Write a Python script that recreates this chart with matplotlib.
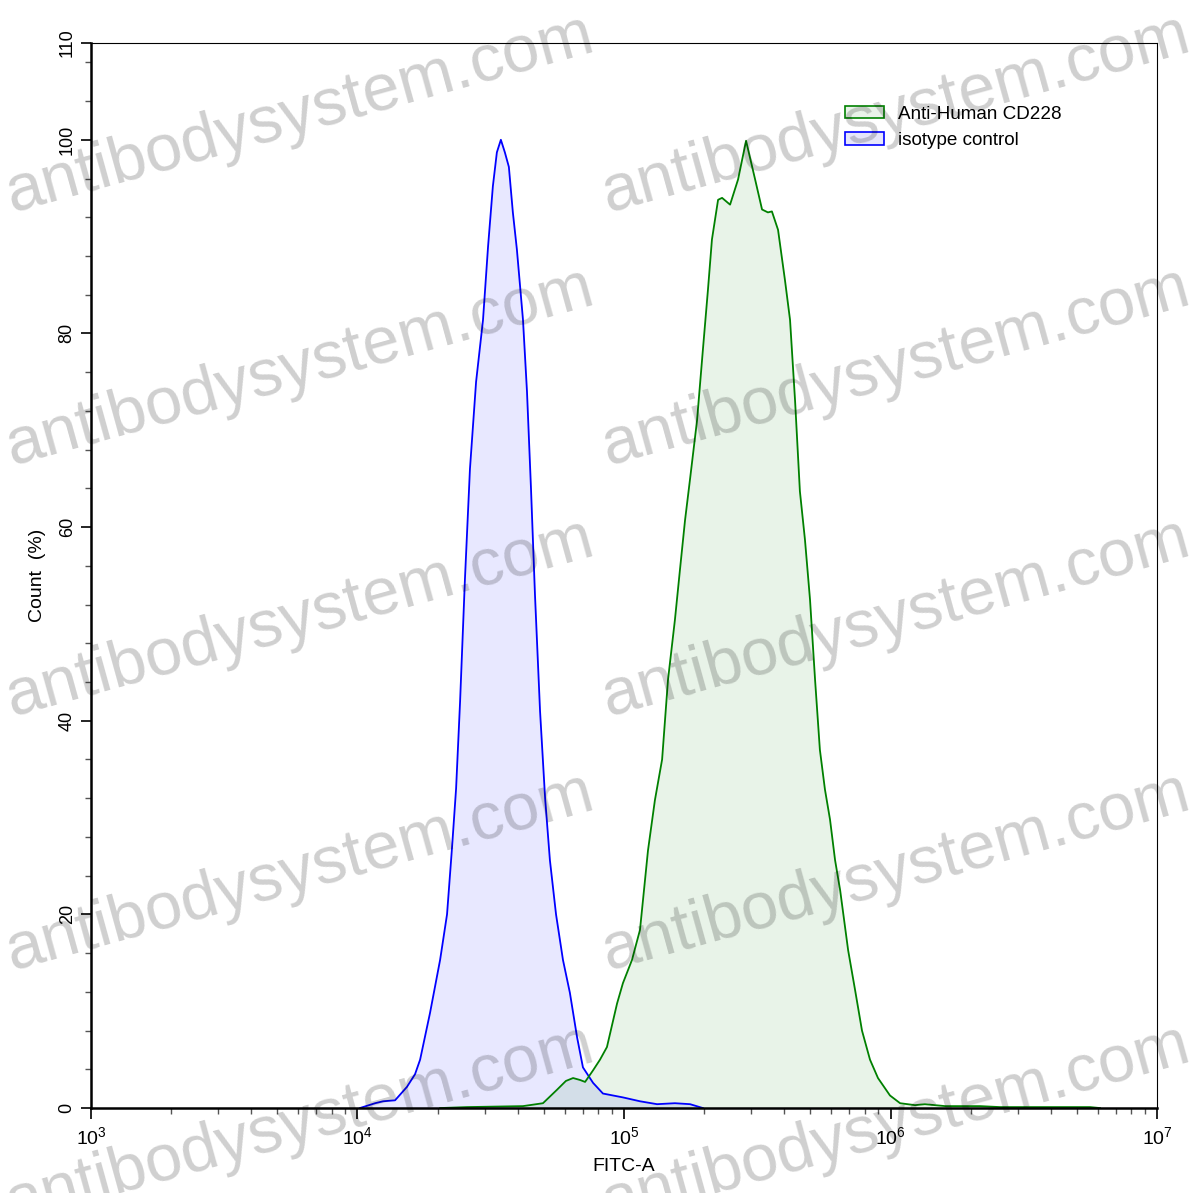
import numpy as np
import matplotlib.pyplot as plt
from matplotlib.ticker import MultipleLocator, LogLocator, NullFormatter
from matplotlib.patches import Patch

plt.rcParams['font.family'] = ['Liberation Sans', 'DejaVu Sans']
plt.rcParams['mathtext.default'] = 'regular'

# isotype control (blue): log10(FITC-A) and count (%)
iso_log = [4.009, 4.066, 4.096, 4.141, 4.186, 4.216, 4.235, 4.272, 4.310, 4.336,
           4.355, 4.370, 4.385, 4.403, 4.422, 4.445, 4.471, 4.490, 4.508, 4.523,
           4.538, 4.553, 4.568, 4.583, 4.598, 4.610, 4.621, 4.636, 4.651, 4.666,
           4.685, 4.704, 4.722, 4.745, 4.771, 4.797, 4.824, 4.846, 4.884, 4.921,
           4.996, 5.060, 5.124, 5.191, 5.248, 5.296]
iso_cnt = [0, 0.5, 0.7, 0.8, 2.2, 3.5, 5, 9.8, 15.3, 20,
           27, 33, 42, 54.5, 66, 75, 81.4, 89, 95.2, 98.7,
           100, 98.7, 97.2, 92.5, 88.7, 84.9, 81.4, 74, 64, 53,
           41, 32, 25.6, 20, 15.3, 11.9, 7.3, 4.2, 2.6, 1.5,
           1.1, 0.7, 0.4, 0.5, 0.4, 0]

# Anti-Human CD228 (green)
cd_log = [4.310, 4.411, 4.621, 4.696, 4.749, 4.782, 4.809, 4.835, 4.854, 4.884,
          4.910, 4.936, 4.974, 4.996, 5.030, 5.060, 5.090, 5.116, 5.143, 5.165,
          5.191, 5.210, 5.229, 5.248, 5.274, 5.296, 5.315, 5.330, 5.353, 5.368,
          5.398, 5.428, 5.458, 5.492, 5.518, 5.540, 5.555, 5.578, 5.604, 5.623,
          5.642, 5.660, 5.679, 5.698, 5.717, 5.735, 5.754, 5.773, 5.792, 5.811,
          5.841, 5.867, 5.893, 5.923, 5.953, 5.998, 6.036, 6.092, 6.129, 6.205,
          6.336, 6.411, 6.749, 6.786]
cd_cnt = [0, 0.1, 0.2, 0.5, 1.9, 2.8, 3.1, 2.9, 2.7, 3.9,
          5, 6.3, 10.8, 12.9, 15.3, 18.4, 26.6, 31.8, 36, 44.2,
          50.4, 55.6, 60.7, 65, 71, 78.3, 84.5, 89.7, 93.8, 94,
          93.3, 95.9, 99.9, 95.9, 92.8, 92.5, 92.6, 90.7, 85.5, 81.4,
          73, 63.7, 58.7, 52.5, 44.2, 37, 32.9, 29.8, 25.6, 22.5,
          16.3, 12.2, 8, 5, 3.1, 1.3, 0.5, 0.3, 0.4, 0.2,
          0.2, 0.1, 0.1, 0]

labels = ['Anti-Human CD228', 'isotype control']

fig = plt.figure(figsize=(11.97, 11.93), dpi=100)
ax = fig.add_axes([0.076, 0.0712, 0.8906, 0.8928])

x_iso = 10 ** np.array(iso_log)
x_cd = 10 ** np.array(cd_log)

ax.fill_between(x_iso, iso_cnt, color='blue', alpha=0.09, lw=0)
ax.fill_between(x_cd, cd_cnt, color='green', alpha=0.09, lw=0)
ax.plot(x_iso, iso_cnt, color='blue', lw=1.3)
ax.plot(x_cd, cd_cnt, color='green', lw=1.3)

ax.set_xscale('log')
ax.set_xlim(1e3, 1e7)
ax.set_ylim(0, 110)
ax.yaxis.set_minor_locator(MultipleLocator(4))
ax.set_yticks([0, 20, 40, 60, 80, 100, 110])
ax.xaxis.set_minor_locator(LogLocator(base=10, subs=np.arange(2, 10)))
ax.xaxis.set_minor_formatter(NullFormatter())

for s in ['left', 'bottom']:
    ax.spines[s].set_linewidth(1.8)
for s in ['top', 'right']:
    ax.spines[s].set_linewidth(0.8)

ax.tick_params(axis='y', which='major', length=7, width=1.2, labelsize=13,
               labelrotation=90, direction='out', pad=4)
ax.tick_params(axis='y', which='minor', length=4, width=1, color='#555555')
ax.tick_params(axis='x', which='major', length=8, width=1.2, labelsize=14, pad=5)
ax.tick_params(axis='x', which='minor', length=4, width=1, color='#555555')
for t in ax.get_yticklabels():
    t.set_va('center')

ax.set_xlabel('FITC-A', fontsize=14, labelpad=7)
ax.set_ylabel('Count  (%)', fontsize=14, labelpad=9)

handles = [Patch(facecolor='#e8f3e8', edgecolor='green', lw=1.2),
           Patch(facecolor='#e6e6fa', edgecolor='blue', lw=1.2)]
ax.legend(handles, labels, loc='upper left', bbox_to_anchor=(0.707, 0.941),
          frameon=False, fontsize=13.6, handlelength=2.1, handleheight=0.65,
          handletextpad=0.7, labelspacing=0.5, borderpad=0, borderaxespad=0)

# watermark
for cx in [0.25, 0.748]:
    for cy in [0.904, 0.692, 0.481, 0.268, 0.057]:
        fig.text(cx, cy, 'antibodysystem.com', fontsize=48, color='black',
                 alpha=0.19, rotation=15.5, ha='center', va='center',
                 rotation_mode='anchor', zorder=10)

fig.savefig('out.png', dpi=100)
